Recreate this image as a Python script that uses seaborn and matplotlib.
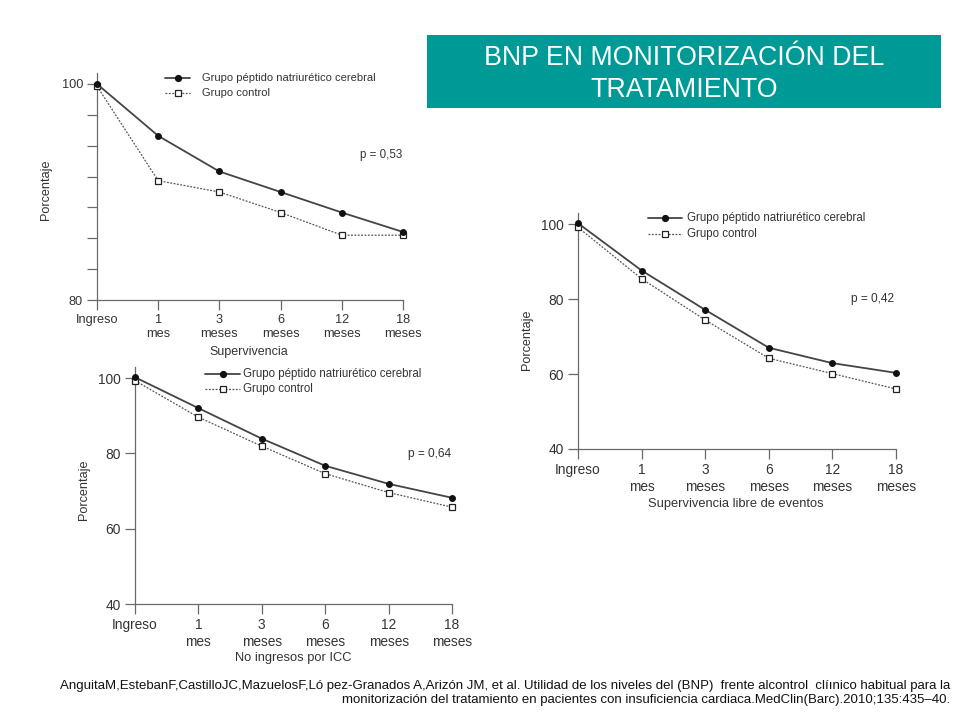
import matplotlib
matplotlib.use("Agg")
import matplotlib.pyplot as plt
import seaborn as sns
import pandas as pd
import numpy as np
from matplotlib.lines import Line2D
from matplotlib.patches import Rectangle

sns.set_theme(style="white")
plt.rcParams['font.family'] = ['Liberation Sans', 'DejaVu Sans']

# ---- data ----
categories = ["Ingreso", "1\nmes", "3\nmeses", "6\nmeses", "12\nmeses", "18\nmeses"]
series_names = ["Grupo péptido natriurético cerebral", "Grupo control"]

superv_bnp = [100.0, 95.2, 91.9, 90.0, 88.1, 86.3]
superv_ctrl = [99.8, 91.05, 90.0, 88.1, 86.0, 86.0]

libre_bnp = [100.2, 87.6, 77.1, 67.0, 62.9, 60.3]
libre_ctrl = [99.1, 85.4, 74.4, 64.2, 60.1, 56.0]

ingr_bnp = [100.2, 92.0, 83.9, 76.7, 71.9, 68.2]
ingr_ctrl = [99.3, 89.6, 81.9, 74.6, 69.6, 65.7]

title_text = "BNP EN MONITORIZACIÓN DEL\nTRATAMIENTO"
citation_l1 = ("AnguitaM,EstebanF,CastilloJC,MazuelosF,Ló pez-Granados A,Arizón JM, et al. "
               "Utilidad de los niveles del (BNP)  frente alcontrol  clíınico habitual para la")
citation_l2 = ("monitorización del tratamiento en pacientes con insuficiencia cardiaca."
               "MedClin(Barc).2010;135:435–40.")

W, H = 960, 720
fig = plt.figure(figsize=(9.6, 7.2), dpi=100)
fig.patch.set_facecolor("white")

axis_col = "#6a6a6a"
text_col = "#333333"
DOT = (0, (1.5, 1.2))


def make_df(bnp, ctrl):
    rows = []
    for name, vals in zip(series_names, [bnp, ctrl]):
        for i, v in enumerate(vals):
            rows.append({"pos": i, "valor": v, "grupo": name})
    return pd.DataFrame(rows)


def panel(left, right, y_top_val_px, y_bot_val_px, ymin, ymax, ytop_ext, bnp, ctrl,
          yticks, yticklabels, xlabel, ptext, ppos, legend_px, fs, legfs, xlfs,
          xlabel_px, ylabel_px):
    ppu = (y_bot_val_px - y_top_val_px) / (ymax - ymin)
    top_px = y_top_val_px - (ytop_ext - ymax) * ppu
    ax = fig.add_axes([left / W, 1 - y_bot_val_px / H, (right - left) / W,
                       (y_bot_val_px - top_px) / H])
    df = make_df(bnp, ctrl)
    d1 = df[df.grupo == series_names[0]]
    d2 = df[df.grupo == series_names[1]]
    sns.lineplot(data=d2, x="pos", y="valor", ax=ax, color="#555555", lw=0.9,
                 linestyle=DOT, marker="s", markersize=4,
                 markerfacecolor="white", markeredgecolor="#222222",
                 markeredgewidth=0.9, clip_on=False, zorder=3)
    sns.lineplot(data=d1, x="pos", y="valor", ax=ax, color="#444444", lw=1.3,
                 marker="o", markersize=4.2, markerfacecolor="#111111",
                 markeredgecolor="#111111", clip_on=False, zorder=4)
    ax.set_xlim(0, len(categories) - 1)
    ax.set_ylim(ymin, ytop_ext)
    ax.set_xticks(range(len(categories)))
    ax.set_xticklabels(categories, fontsize=fs, color=text_col, va="top",
                       linespacing=1.25)
    ax.set_yticks(yticks)
    ax.set_yticklabels(yticklabels, fontsize=fs, color=text_col)
    ax.tick_params(axis="both", direction="out", length=7, width=0.9,
                   colors=axis_col, labelcolor=text_col, pad=3, left=True,
                   bottom=True)
    for s in ["top", "right"]:
        ax.spines[s].set_visible(False)
    for s in ["left", "bottom"]:
        ax.spines[s].set_color(axis_col)
        ax.spines[s].set_linewidth(0.9)
    ax.set_xlabel("")
    ax.set_ylabel("")
    fig.text(xlabel_px[0] / W, 1 - xlabel_px[1] / H, xlabel, fontsize=xlfs,
             color=text_col, ha="center", va="center")
    fig.text(ylabel_px[0] / W, 1 - ylabel_px[1] / H, "Porcentaje", rotation=90,
             fontsize=9.1, color=text_col, ha="center", va="center")
    ax.set_facecolor("none")
    ax.grid(False)
    if ax.get_legend():
        ax.get_legend().remove()
    fig.text(ppos[0] / W, 1 - ppos[1] / H, ptext, fontsize=legfs + 0.3,
             color=text_col, ha="left", va="center")
    # legend
    lx0, lx1, ly0, ly1, tx = legend_px
    l1 = Line2D([lx0 / W, lx1 / W], [1 - ly0 / H] * 2, transform=fig.transFigure,
                color="#444444", lw=1.3)
    m1 = Line2D([(lx0 + lx1) / 2 / W], [1 - ly0 / H], transform=fig.transFigure,
                marker="o", markersize=4.2, color="#111111", lw=0)
    l2 = Line2D([lx0 / W, lx1 / W], [1 - ly1 / H] * 2, transform=fig.transFigure,
                color="#555555", lw=0.9, linestyle=DOT)
    m2 = Line2D([(lx0 + lx1) / 2 / W], [1 - ly1 / H], transform=fig.transFigure,
                marker="s", markersize=4, markerfacecolor="white",
                markeredgecolor="#222222", markeredgewidth=0.9, lw=0)
    for art in (l1, m1, l2, m2):
        fig.add_artist(art)
    fig.text(tx / W, 1 - ly0 / H, series_names[0], fontsize=legfs,
             color=text_col, va="center", ha="left")
    fig.text(tx / W, 1 - ly1 / H, series_names[1], fontsize=legfs,
             color=text_col, va="center", ha="left")
    return ax


# Panel 1: Supervivencia
panel(97, 403, 84, 300, 80, 100, 101.0, superv_bnp, superv_ctrl,
      list(np.linspace(80, 100, 8)), ["80"] + [""] * 6 + ["100"],
      "Supervivencia", "p = 0,53", (360, 155), (165, 190, 78, 93, 202),
      9.2, 8.0, 9.0, (249, 352), (46, 190))

# Panel 2: Supervivencia libre de eventos
panel(578, 896, 224, 449, 40, 100, 102.9, libre_bnp, libre_ctrl,
      [40, 60, 80, 100], ["40", "60", "80", "100"],
      "Supervivencia libre de eventos", "p = 0,42", (851, 299),
      (648, 682, 218, 234, 687), 9.9, 8.3, 9.3, (736, 504), (527, 340))

# Panel 3: No ingresos por ICC
panel(135, 452, 378, 604, 40, 100, 102.9, ingr_bnp, ingr_ctrl,
      [40, 60, 80, 100], ["40", "60", "80", "100"],
      "No ingresos por ICC", "p = 0,64", (408, 454),
      (205, 240, 374, 389, 243), 9.9, 8.3, 9.3, (293, 658), (84, 490))

# Title box
fig.add_artist(Rectangle((427 / W, 1 - 108 / H), (941 - 427) / W, (108 - 35) / H,
                         transform=fig.transFigure, facecolor="#009a96",
                         edgecolor="none"))
fig.text((427 + 941) / 2 / W, 1 - 74 / H, title_text, color="white",
         fontsize=19.3, ha="center", va="center", linespacing=1.3)

# Citation
fig.text(950 / W, 1 - 686 / H, citation_l1, fontsize=9.5, color="#111111",
         ha="right", va="center")
fig.text(950 / W, 1 - 700 / H, citation_l2, fontsize=9.5, color="#111111",
         ha="right", va="center")

fig.savefig("out.png", dpi=100)
